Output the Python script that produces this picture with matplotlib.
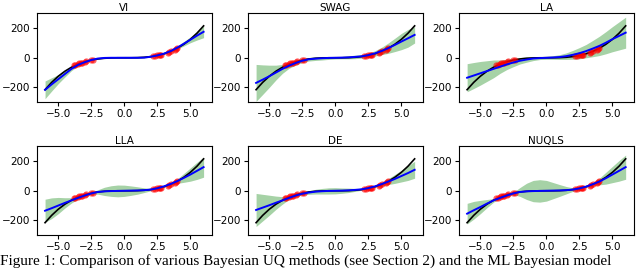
import matplotlib
matplotlib.use("Agg")
import matplotlib.pyplot as plt

x_grid = [-6.0, -5.5, -5.0, -4.5, -4.0, -3.5, -3.0, -2.5, -2.0, -1.5, -1.0, -0.5, 0.0,
          0.5, 1.0, 1.5, 2.0, 2.5, 3.0, 3.5, 4.0, 4.5, 5.0, 5.5, 6.0]

# true function (black)
truth = [-216, -166.4, -125, -91.1, -64, -42.9, -27, -15.6, -8, -3.4, -1, -0.1, 0,
         0.1, 1, 3.4, 8, 15.6, 27, 42.9, 64, 91.1, 125, 166.4, 216]

# training points (red)
x_train = [-3.8, -3.7, -3.5, -3.4, -3.3, -3.2, -3.0, -2.9, -2.5, -2.4,
           2.2, 2.3, 2.5, 2.6, 2.7, 2.8, 3.3, 3.4, 3.5, 3.8, 3.9, 4.0]
y_train = [-50, -47, -45, -38, -33, -35, -29, -22, -17, -13,
           12, 10, 17, 20, 16, 22, 35, 41, 44, 55, 60, 63]

titles = ["VI", "SWAG", "LA", "LLA", "DE", "NUQLS"]

# predictive means (blue)
vi_mean = [-217, -180, -145, -110, -75, -48, -30, -15, -5, -1, 0, 0, 0,
           0, 0, 1, 7, 16, 28, 45, 68, 95, 122, 150, 176]
swag_mean = [-170, -148, -125, -100, -75, -53, -35, -20, -10, -6, -3, -1, 0,
             1, 3, 6, 10, 18, 30, 46, 65, 87, 110, 132, 155]
la_mean = [-135, -120, -105, -90, -75, -60, -45, -32, -20, -12, -5, -2, 0,
           2, 5, 11, 20, 31, 45, 62, 80, 102, 126, 148, 170]
lla_mean = [-135, -118, -100, -82, -65, -48, -32, -18, -8, -4, -2, -1, 0,
            1, 2, 4, 8, 17, 30, 46, 65, 87, 110, 135, 160]
de_mean = [-130, -114, -98, -81, -65, -48, -32, -20, -12, -6, -3, -1, 0,
           1, 3, 6, 10, 18, 30, 45, 62, 80, 100, 120, 142]
nuqls_mean = [-155, -132, -110, -87, -65, -48, -32, -18, -8, -4, -2, -1, 0,
              1, 2, 4, 8, 16, 28, 44, 62, 85, 110, 135, 160]

# half widths of the green bands
vi_spread = [60, 45, 30, 20, 12, 8, 5, 3, 2, 2, 2, 2, 2,
             2, 2, 2, 2, 3, 5, 7, 10, 15, 20, 30, 40]
swag_spread = [125, 100, 75, 50, 30, 18, 14, 12, 12, 12, 12, 10, 8,
               8, 10, 12, 12, 12, 18, 25, 35, 45, 55, 60, 55]
la_spread = [95, 88, 80, 70, 60, 45, 35, 28, 22, 18, 14, 10, 10,
             12, 16, 22, 30, 38, 45, 55, 65, 75, 85, 95, 105]
lla_spread = [78, 70, 55, 35, 18, 8, 5, 6, 15, 28, 36, 40, 38,
              32, 25, 16, 8, 4, 5, 8, 15, 30, 45, 58, 68]
de_spread = [112, 90, 68, 45, 25, 10, 6, 8, 12, 16, 19, 21, 21,
             18, 15, 10, 6, 5, 6, 12, 20, 30, 40, 50, 57]
nuqls_spread = [70, 60, 45, 28, 12, 5, 5, 8, 30, 55, 72, 76, 70,
                55, 40, 25, 12, 5, 5, 10, 22, 40, 55, 70, 82]

means = [vi_mean, swag_mean, la_mean, lla_mean, de_mean, nuqls_mean]
spreads = [vi_spread, swag_spread, la_spread, lla_spread, de_spread, nuqls_spread]

plt.rcParams["font.size"] = 7.5

fig, axes = plt.subplots(2, 3, figsize=(6.4, 2.69), dpi=100)
fig.subplots_adjust(left=0.058, right=0.99, top=0.95, bottom=0.126, wspace=0.21, hspace=0.5)

for ax, t, mu, sp in zip(axes.flat, titles, means, spreads):
    lo = [m - s for m, s in zip(mu, sp)]
    hi = [m + s for m, s in zip(mu, sp)]
    ax.fill_between(x_grid, lo, hi, color="green", alpha=0.35, linewidth=0)
    ax.plot(x_grid, truth, color="black", lw=1.2)
    ax.plot(x_train, y_train, "o", color="red", ms=4.5, alpha=0.6, mec="none")
    ax.plot(x_grid, mu, color="blue", lw=1.4)
    ax.set_ylim(-300, 300)
    ax.set_xticks([-5.0, -2.5, 0.0, 2.5, 5.0])
    ax.set_yticks([-200, 0, 200])
    ax.tick_params(labelsize=7.5, length=3, pad=2)
    ax.set_title(t, fontsize=7.5, pad=2)

fig.text(0.0, 0.004, "Figure 1: Comparison of various Bayesian UQ methods (see Section 2) and the ML Bayesian model",
         family="Liberation Serif", fontsize=11, va="bottom", ha="left")

fig.savefig("out.png", dpi=100)
